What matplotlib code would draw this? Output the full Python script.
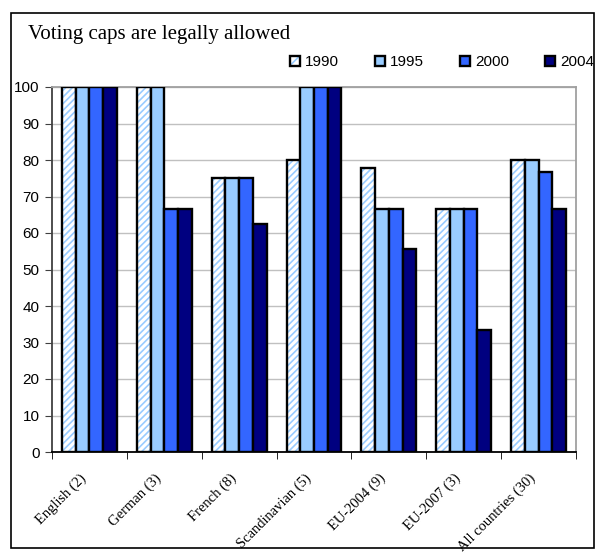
"""Voting caps bar chart."""

import numpy as np
import matplotlib
matplotlib.use("Agg")
import matplotlib.pyplot as plt
from matplotlib.patches import Patch, Rectangle
from matplotlib.legend_handler import HandlerTuple
from matplotlib.transforms import ScaledTranslation

categories = ["English (2)", "German (3)", "French (8)", "Scandinavian (5)",
              "EU-2004 (9)", "EU-2007 (3)", "All countries (30)"]
years = ["1990", "1995", "2000", "2004"]
v1990 = [100, 100, 75, 80, 77.8, 66.7, 80]
v1995 = [100, 100, 75, 100, 66.7, 66.7, 80]
v2000 = [100, 66.7, 75, 100, 66.7, 66.7, 76.7]
v2004 = [100, 66.7, 62.5, 100, 55.6, 33.3, 66.7]
series = [v1990, v1995, v2000, v2004]
colors = ["white", "#99CCFF", "#3366FF", "#000080"]

plt.rcParams["hatch.linewidth"] = 1.2
EDGE_LW = 1.7

fig = plt.figure(figsize=(5.95, 5.53), dpi=100, facecolor="white")
ax = fig.add_axes([52 / 595, 1 - 452 / 553, 524 / 595, 365 / 553])

x = np.arange(len(categories))
w = 0.183
for i, (vals, col) in enumerate(zip(series, colors)):
    pos = x + (i - 1.5) * w
    if i == 0:
        ax.bar(pos, vals, w, color="white", edgecolor="#99CCFF", hatch="/////",
               linewidth=0, zorder=2)
        ax.bar(pos, vals, w, fill=False, edgecolor="black", linewidth=EDGE_LW, zorder=3)
    else:
        ax.bar(pos, vals, w, color=col, edgecolor="black", linewidth=EDGE_LW, zorder=3)

ax.set_xlim(-0.5, len(categories) - 0.5)
ax.set_ylim(0, 100)
ax.set_yticks(range(0, 101, 10))
ax.yaxis.grid(True, color="#C0C0C0", linewidth=1, zorder=0)
ax.set_axisbelow(True)
ax.tick_params(axis="y", labelsize=11, length=5, color="#404040", pad=4)
for lab in ax.get_yticklabels():
    lab.set_fontfamily("Liberation Sans")

ax.set_xticks(x)
ax.set_xticklabels(categories, rotation=45, ha="right", rotation_mode="anchor",
                   fontfamily="Liberation Serif", fontsize=10.5)
ax.tick_params(axis="x", which="major", length=0, pad=14)
shift = ScaledTranslation(-10 / 100, 0, fig.dpi_scale_trans)
for lab in ax.get_xticklabels():
    lab.set_transform(lab.get_transform() + shift)
ax.set_xticks(np.arange(-0.5, len(categories)), minor=True)
ax.tick_params(axis="x", which="minor", length=5, color="black")

ax.spines["left"].set_color("#404040")
ax.spines["bottom"].set_color("black")
ax.spines["top"].set_color("#A0A0A0")
ax.spines["right"].set_color("#A0A0A0")
for s in ax.spines.values():
    s.set_linewidth(1.3)

# legend
hatch_handle = (Patch(facecolor="white", edgecolor="#99CCFF", hatch="///", linewidth=0),
                Patch(fill=False, edgecolor="black", linewidth=EDGE_LW))
handles = [hatch_handle] + [Patch(facecolor=c, edgecolor="black", linewidth=EDGE_LW)
                            for c in colors[1:]]
fig.legend(handles, years, loc="center right", bbox_to_anchor=(594 / 595, 1 - 62 / 553),
           ncol=4, frameon=False, prop={"family": "Liberation Sans", "size": 11},
           handlelength=0.65, handleheight=0.65, handletextpad=0.3,
           columnspacing=2.4, borderaxespad=0, borderpad=0,
           handler_map={tuple: HandlerTuple(ndivide=1)})

fig.text(28 / 595, 1 - 34 / 553, "Voting caps are legally allowed",
         fontfamily="Liberation Serif", fontsize=15, va="center", ha="left")

# outer chart border
fig.patches.append(Rectangle((11 / 595, 1 - 548 / 553), 583 / 595, 535 / 553,
                             transform=fig.transFigure, fill=False,
                             edgecolor="black", linewidth=1.2))

fig.savefig("out.png", dpi=100, facecolor="white")
plt.close(fig)
